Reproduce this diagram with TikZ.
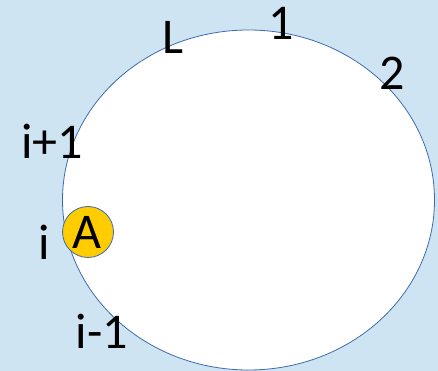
\documentclass[tikz,border=0pt]{standalone}
\usepackage{fontspec}
\setmainfont{Carlito}
\begin{document}
\begin{tikzpicture}[x=1pt,y=1pt,
  lbl/.style={anchor=base,inner sep=0pt,font=\fontsize{50}{50}\selectfont,text=black},
  ring/.style={draw=ringblue,line width=0.8pt,fill=white}]
\definecolor{bgblue}{HTML}{CFE4F3}
\definecolor{ringblue}{HTML}{3D6BB0}
\definecolor{agold}{HTML}{FFCC00}
\useasboundingbox (0,0) rectangle (438,371);
\fill[bgblue] (0,0) rectangle (438,371);
\draw[ring] (248.5,171) ellipse [x radius=186, y radius=170];
\node[lbl] (L) at (173,317.7) {L};
\node[lbl] (one) at (281,331.7) {1};
\node[lbl] (two) at (392,281.7) {2};
\node[lbl] (ip1) at (52,212) {i+1};
\node[lbl] (i) at (44,111.7) {i};
\node[lbl] (im1) at (102,22) {i-1};
\node[circle,draw=ringblue,line width=0.8pt,fill=agold,minimum size=51pt,inner sep=0pt] (Acirc) at (88,139) {};
\node[lbl] (A) at (87,122.7) {A};
\end{tikzpicture}
\end{document}
